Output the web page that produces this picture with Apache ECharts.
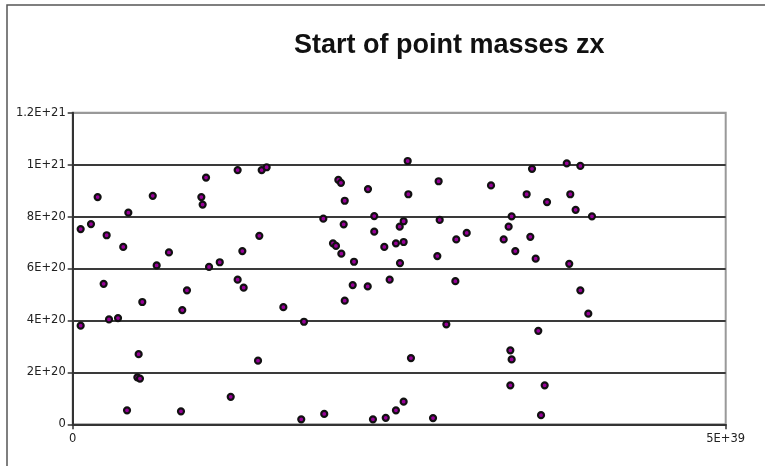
<!DOCTYPE html>
<html>
<head>
<meta charset="utf-8">
<script src="https://cdn.jsdelivr.net/npm/echarts@6/dist/echarts.min.js"></script>
<style>
html,body{margin:0;padding:0;background:#fff;}
#chart{width:765px;height:466px;}
</style>
</head>
<body>
<div id="chart"></div>
<script>
var chartTitle = "Start of point masses zx";
var xTickLabels = ["0", "5E+39"];
var yTickLabels = ["0", "2E+20", "4E+20", "6E+20", "8E+20", "1E+21", "1.2E+21"];

// x positions (zx start)
var xValues = [
  6.1e37, 1.40e38, 1.91e38, 2.60e38, 3.87e38, 4.26e38, 6.13e38, 6.43e38, 7.37e38, 9.85e38,
  9.95e38, 1.021e39, 1.044e39, 1.126e39, 1.263e39, 1.299e39, 2.37e38, 6.1e37, 2.78e38, 3.47e38,
  5.33e38, 8.75e38, 8.39e38, 1.263e39, 5.05e38, 4.95e38, 5.15e38, 4.16e38, 8.29e38, 1.210e39,
  1.447e39, 1.485e39, 2.034e39, 2.054e39, 2.261e39, 2.083e39, 2.565e39, 2.570e39, 1.919e39, 2.075e39,
  2.309e39, 2.534e39, 2.504e39, 2.309e39, 1.993e39, 2.016e39, 2.386e39, 2.475e39, 2.534e39, 2.057e39,
  2.154e39, 2.506e39, 1.429e39, 1.309e39, 1.613e39, 1.771e39, 2.144e39, 2.259e39, 2.427e39, 2.083e39,
  1.419e39, 1.750e39, 1.926e39, 2.299e39, 2.397e39, 2.475e39, 2.534e39, 2.590e39, 2.802e39, 3.203e39,
  3.517e39, 3.783e39, 3.887e39, 3.476e39, 3.632e39, 3.810e39, 3.851e39, 3.976e39, 3.361e39, 3.338e39,
  3.504e39, 3.300e39, 3.389e39, 3.545e39, 3.802e39, 2.810e39, 2.937e39, 3.017e39, 2.792e39, 2.930e39,
  3.887e39, 3.948e39, 2.861e39, 3.565e39, 3.351e39, 3.361e39, 3.351e39, 3.614e39, 2.759e39, 3.586e39
];
// y values (point masses)
var yValues = [
  7.52e20, 7.71e20, 8.75e20, 7.28e20, 6.83e20, 8.15e20, 8.80e20, 6.12e20, 6.62e20, 8.75e20,
  8.46e20, 9.50e20, 6.06e20, 6.24e20, 9.79e20, 6.67e20, 5.41e20, 3.80e20, 4.04e20, 4.09e20,
  4.71e20, 5.16e20, 4.40e20, 5.57e20, 2.70e20, 1.81e20, 1.76e20, 0.54e20, 0.50e20, 1.06e20,
  9.79e20, 9.90e20, 9.41e20, 9.30e20, 9.06e20, 8.61e20, 10.14e20, 8.86e20, 7.92e20, 7.70e20,
  8.02e20, 7.82e20, 7.61e20, 7.42e20, 6.97e20, 6.87e20, 6.83e20, 6.97e20, 7.02e20, 6.57e20,
  6.26e20, 6.21e20, 7.26e20, 5.26e20, 4.51e20, 3.95e20, 5.36e20, 5.31e20, 5.57e20, 4.76e20,
  2.45e20, 0.19e20, 0.40e20, 0.19e20, 0.25e20, 0.54e20, 0.87e20, 2.55e20, 9.36e20, 9.20e20,
  9.84e20, 10.05e20, 9.95e20, 8.86e20, 8.56e20, 8.86e20, 8.26e20, 8.01e20, 8.01e20, 7.61e20,
  7.22e20, 7.12e20, 6.67e20, 6.38e20, 6.18e20, 7.87e20, 7.12e20, 7.37e20, 6.48e20, 5.51e20,
  5.16e20, 4.26e20, 3.85e20, 3.60e20, 2.85e20, 2.50e20, 1.50e20, 1.50e20, 0.24e20, 0.35e20
];

var xMin = 0, xMax = 5e39, xStep = 5e39;
var yMin = 0, yMax = 1.2e21, yStep = 2e20;

var points = xValues.map(function (x, i) { return [x, yValues[i]]; });

var chart = echarts.init(document.getElementById('chart'), null, {renderer: 'canvas'});
var labelFont = {fontFamily: 'DejaVu Sans, sans-serif', fontSize: 11.5, color: '#222'};

chart.setOption({
  animation: false,
  backgroundColor: '#fff',
  title: {
    text: chartTitle,
    left: 289,
    top: 27,
    textStyle: {fontFamily: 'Liberation Sans, Arial, sans-serif', fontSize: 27, fontWeight: 'bold', color: '#111'}
  },
  graphic: [{
    type: 'rect',
    shape: {x: 7, y: 5, width: 900, height: 600},
    style: {fill: null, stroke: '#555', lineWidth: 1.5},
    silent: true,
    z: -1
  }],
  grid: {
    left: 72.7, right: 39.3, top: 112.7, bottom: 41.7,
    show: true, borderColor: '#999', borderWidth: 2, backgroundColor: 'transparent'
  },
  xAxis: {
    type: 'value',
    min: xMin, max: xMax, interval: xStep,
    axisLine: {show: true, lineStyle: {color: '#333', width: 2}},
    axisTick: {show: true, length: 5, lineStyle: {color: '#333', width: 1.5}},
    splitLine: {show: false},
    axisLabel: Object.assign({
      margin: 9,
      formatter: function (v) {
        var idx = Math.round((v - xMin) / xStep);
        return xTickLabels[idx] !== undefined ? xTickLabels[idx] : '';
      }
    }, labelFont)
  },
  yAxis: {
    type: 'value',
    min: yMin, max: yMax, interval: yStep,
    axisLine: {show: true, lineStyle: {color: '#333', width: 2}},
    axisTick: {show: true, length: 5, lineStyle: {color: '#333', width: 1.5}},
    splitLine: {show: true, lineStyle: {color: ['#3a3a3a', '#3a3a3a', '#3a3a3a', '#3a3a3a', '#3a3a3a', '#3a3a3a', '#999'], width: 2}},
    axisLabel: Object.assign({
      margin: 7,
      formatter: function (v) {
        var idx = Math.round((v - yMin) / yStep);
        return yTickLabels[idx] !== undefined ? yTickLabels[idx] : '';
      }
    }, labelFont)
  },
  series: [{
    type: 'scatter',
    data: points,
    symbol: 'circle',
    symbolSize: 6,
    itemStyle: {color: '#990099', borderColor: '#111', borderWidth: 2.2, opacity: 1},
    z: 5
  }]
});
</script>
</body>
</html>
